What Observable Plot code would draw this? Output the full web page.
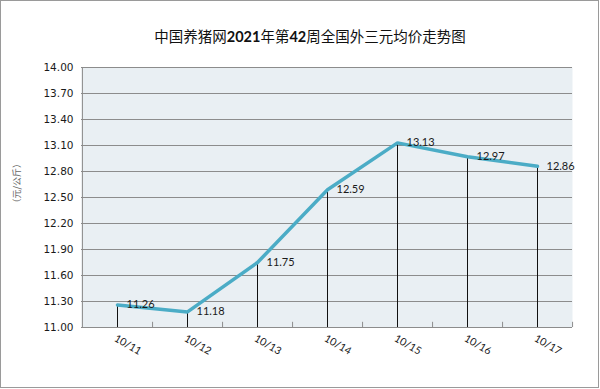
<!DOCTYPE html>
<html><head><meta charset="utf-8">
<script src="https://cdn.jsdelivr.net/npm/d3@7"></script>
<script src="https://cdn.jsdelivr.net/npm/@observablehq/plot@0.6"></script>
<style>
body{margin:0;background:#fff;}
#wrap{position:relative;width:600px;height:389px;overflow:hidden;background:#fff;}
#frame{position:absolute;left:0;top:0;width:597px;height:386px;border:1px solid #9a9a9a;}
#title{position:absolute;left:10px;top:27px;width:600px;text-align:center;font-family:"Noto Sans CJK SC";font-size:14.5px;font-weight:400;color:#111;line-height:18px;white-space:nowrap;}
#title b{font-family:"Lato","Noto Sans CJK SC";font-weight:bold;}
#chart{position:absolute;left:0;top:0;}
</style></head>
<body><div id="wrap"><div id="frame"></div><div id="title">中国养猪网<b>2021</b>年第<b>42</b>周全国外三元均价走势图</div><div id="chart"></div></div>
<script>
const dates = ["10/11","10/12","10/13","10/14","10/15","10/16","10/17"];
const prices = [11.26, 11.18, 11.75, 12.59, 13.13, 12.97, 12.86];
const yTicks = [11.00, 11.30, 11.60, 11.90, 12.20, 12.50, 12.80, 13.10, 13.40, 13.70, 14.00];
const yLabel = "（元/公斤）";

const W = 600, H = 389, mL = 81, mR = 28, mT = 67, mB = 62;
const step = (W - mL - mR) / dates.length;
const data = dates.map((d, i) => ({date: d, price: prices[i]}));

const plot = Plot.plot({
  width: W, height: H,
  marginLeft: mL, marginRight: mR, marginTop: mT, marginBottom: mB,
  style: {background: "transparent", fontFamily: "Lato, sans-serif", color: "#222"},
  x: {type: "point", domain: dates, padding: 0.5, axis: null},
  y: {domain: [11, 14], axis: null},
  marks: [
    Plot.frame({fill: "#E9EFF3", stroke: null}),
    Plot.ruleY(yTicks, {stroke: "#8c8c8c", strokeWidth: 1}),
    Plot.ruleX([dates[0]], {dx: -step / 2, stroke: "#8c8c8c"}),
    Plot.ruleX(dates, {x: d => d, y1: 11, y2: 11.06, dx: step / 2, stroke: "#8c8c8c"}),
    Plot.ruleX(data, {x: "date", y1: 11, y2: "price", stroke: "#111", strokeWidth: 1}),
    Plot.line(data, {x: "date", y: "price", stroke: "#4BACC6", strokeWidth: 3.5, strokeLinejoin: "miter"}),
    Plot.text(data, {x: "date", y: "price", text: d => d.price.toFixed(2), textAnchor: "start", dx: 9, fontSize: 11, fill: "#1a1a1a"}),
    Plot.text(yTicks, {y: d => d, text: d => d.toFixed(2), frameAnchor: "left", textAnchor: "end", dx: -8, fontSize: 10.5, fontFamily: "DejaVu Sans", fill: "#1a1a1a"}),
    Plot.text(dates, {x: d => d, text: d => d, frameAnchor: "bottom", rotate: 30, textAnchor: "start", dx: -4, dy: 13, fontSize: 10.5, fill: "#1a1a1a"}),
    Plot.text([yLabel], {frameAnchor: "left", dx: -64, dy: 10, rotate: -90, fontSize: 9, fill: "#666", fontFamily: "Noto Sans CJK SC"})
  ]
});
document.getElementById("chart").appendChild(plot);
</script>
</body></html>
